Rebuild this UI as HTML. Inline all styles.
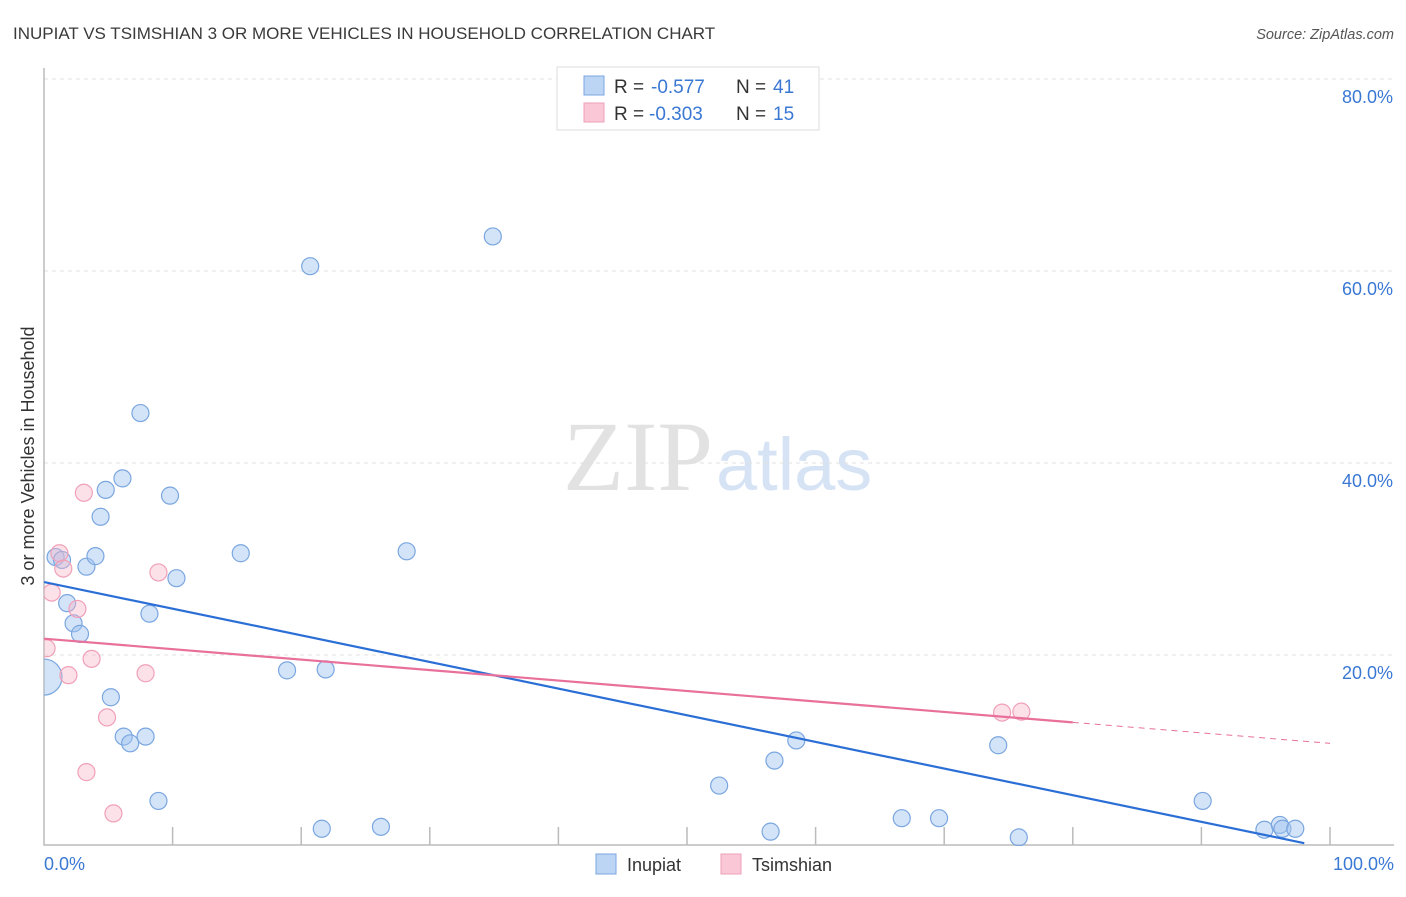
<!DOCTYPE html>
<html><head><meta charset="utf-8"><style>
body{margin:0;background:#fff;font-family:"Liberation Sans",sans-serif}
</style></head><body>
<svg id="c" width="1406" height="892" xmlns="http://www.w3.org/2000/svg" style="font-family:'Liberation Sans',sans-serif">
<defs><clipPath id="plot"><rect x="44" y="60" width="1360" height="786"/></clipPath></defs>
<text x="13" y="39" font-size="17" fill="#3a3a3a">INUPIAT VS TSIMSHIAN 3 OR MORE VEHICLES IN HOUSEHOLD CORRELATION CHART</text>
<text x="1394" y="39" font-size="14.5" fill="#555" text-anchor="end" font-style="italic">Source: ZipAtlas.com</text>
<text x="713" y="490" font-size="100" fill="#e2e2e2" text-anchor="end" font-family="Liberation Serif,serif">ZIP</text>
<text x="716" y="490" font-size="74" fill="#d6e3f5">atlas</text>
<text transform="translate(34,456) rotate(-90)" font-size="18" fill="#333" text-anchor="middle">3 or more Vehicles in Household</text>
<g id="grid"></g><g id="marks" clip-path="url(#plot)"></g>
<g>
<rect x="557" y="67" width="262" height="63" fill="#fff" stroke="#ddd"/>
<rect x="584" y="76" width="20" height="19" fill="#bcd5f5" stroke="#7aa6e0"/>
<rect x="584" y="103" width="20" height="19" fill="#f9c7d6" stroke="#f0a0b8"/>
<text x="614" y="93" font-size="19" fill="#333">R =</text>
<text x="651" y="93" font-size="19" fill="#3a78d4">-0.577</text>
<text x="736" y="93" font-size="19" fill="#333">N =</text>
<text x="773" y="93" font-size="19" fill="#3a78d4">41</text>
<text x="614" y="120" font-size="19" fill="#333">R =</text>
<text x="649" y="120" font-size="19" fill="#3a78d4">-0.303</text>
<text x="736" y="120" font-size="19" fill="#333">N =</text>
<text x="773" y="120" font-size="19" fill="#3a78d4">15</text>
</g>
<g>
<rect x="596" y="854" width="20" height="20" fill="#bcd5f5" stroke="#7aa6e0"/>
<text x="627" y="871" font-size="18" fill="#333">Inupiat</text>
<rect x="721" y="854" width="20" height="20" fill="#f9c7d6" stroke="#f0a0b8"/>
<text x="752" y="871" font-size="18" fill="#333">Tsimshian</text>
</g>
</svg>
<script>
const yTicks=[20,40,60,80];
const yTickLabels=["20.0%","40.0%","60.0%","80.0%"];
const xTickLabels=["0.0%","100.0%"];
const inupiatX=[0,0.9,1.4,3.3,4.0,4.4,4.8,6.1,7.5,9.8,10.3,8.2,1.8,2.3,2.8,5.2,6.2,6.7,7.9,8.9,15.3,18.9,21.9,20.7,34.9,28.2,21.6,26.2,52.5,56.8,58.5,56.5,66.7,69.6,74.2,75.8,90.1,94.9,96.1,96.3,97.3];
const inupiatY=[17.7,30.2,29.9,29.2,30.3,34.4,37.2,38.4,45.2,36.6,28.0,24.3,25.4,23.3,22.2,15.6,11.5,10.8,11.5,4.8,30.6,18.4,18.5,60.5,63.6,30.8,1.9,2.1,6.4,9.0,11.1,1.6,3.0,3.0,10.6,1.0,4.8,1.8,2.3,1.9,1.9];
const tsimX=[1.2,1.5,0.6,0.2,2.6,1.9,3.1,3.7,8.9,7.9,4.9,3.3,5.4,74.5,76.0];
const tsimY=[30.6,29.0,26.5,20.7,24.8,17.9,36.9,19.6,28.6,18.1,13.5,7.8,3.5,14.0,14.1];
const blueTrend=[27.6,0.4];
const blueTrendEnd=98;
const pinkTrend=[21.7,-0.109];
const pinkSolidEnd=80;
const X=v=>44+v*12.86, Y=v=>847-v*9.6;
const ns="http://www.w3.org/2000/svg";
function mk(t,a,p){const e=document.createElementNS(ns,t);for(const k in a)e.setAttribute(k,a[k]);p.appendChild(e);return e;}
const g=document.getElementById('grid'), m=document.getElementById('marks');
yTicks.forEach((t,i)=>{
 const l=mk('line',{x1:44,x2:1394,y1:Y(t),y2:Y(t),stroke:'#e0e0e0','stroke-dasharray':'4,4'},g);
 
 
 const tx=mk('text',{x:1393,y:Y(t)+24,'font-size':18,fill:'#3a78d4','text-anchor':'end'},g);
 tx.textContent=yTickLabels[i];
 
 
});
const ax=mk('path',{d:`M44,68 V845 H1394`,fill:'none',stroke:'#bbb','stroke-width':1.5},g);


for(let i=1;i<=10;i++){
 const t=mk('line',{x1:X(i*10),x2:X(i*10),y1:827,y2:845,stroke:'#bbb','stroke-width':1.5},g);
 
 
}
[[44,'start'],[1394,'end']].forEach((p,i)=>{
 const t=mk('text',{x:p[0],y:870,'font-size':18,fill:'#3a78d4','text-anchor':p[1]},g);
 t.textContent=xTickLabels[i];
 
 
});
inupiatX.forEach((x,i)=>{
 const c=mk('circle',{cx:X(x),cy:Y(inupiatY[i]),r:i==0?18:8.5,fill:'rgba(160,195,240,0.45)',stroke:'#7aa6e0','stroke-width':1.2},m);
 
 
});
tsimX.forEach((x,i)=>{
 const c=mk('circle',{cx:X(x),cy:Y(tsimY[i]),r:8.5,fill:'rgba(248,180,200,0.4)',stroke:'#f0a0b8','stroke-width':1.2},m);
 
 
});
const bs=(blueTrend[1]-blueTrend[0])/blueTrendEnd;
const bl=mk('line',{x1:X(0),y1:Y(blueTrend[0]),x2:X(blueTrendEnd),y2:Y(blueTrend[1]),stroke:'#2b6fd6','stroke-width':2.2},m);


const pf=x=>pinkTrend[0]+pinkTrend[1]*x;
const pl=mk('line',{x1:X(0),y1:Y(pf(0)),x2:X(pinkSolidEnd),y2:Y(pf(pinkSolidEnd)),stroke:'#e8709a','stroke-width':2.2},m);


const pd=mk('line',{x1:X(pinkSolidEnd),y1:Y(pf(pinkSolidEnd)),x2:X(100),y2:Y(pf(100)),stroke:'#e8709a','stroke-width':1,'stroke-dasharray':'6,5'},m);


</script>
</body></html>
